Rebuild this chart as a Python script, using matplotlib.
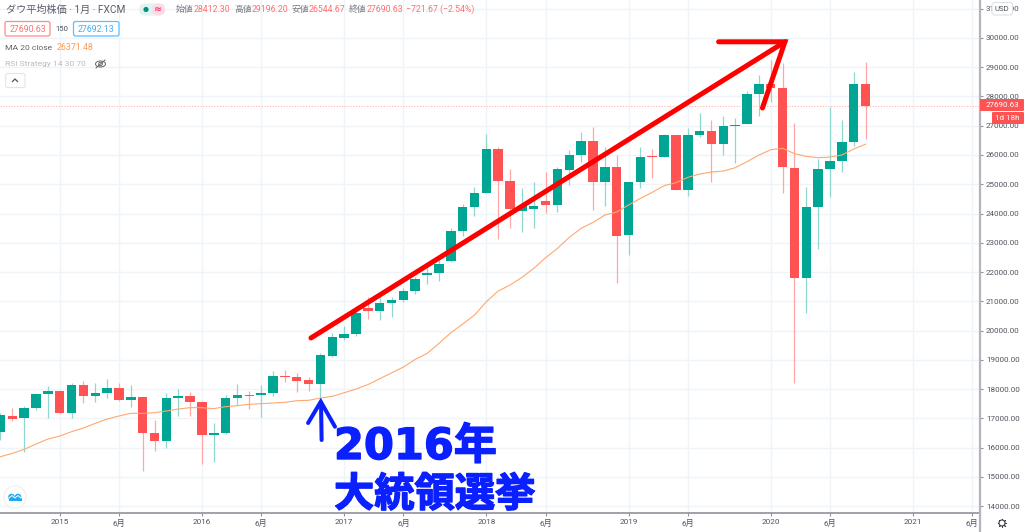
import matplotlib
matplotlib.use('Agg')
import matplotlib.pyplot as plt
import matplotlib.patheffects as pe
from matplotlib.patches import FancyBboxPatch, Circle, Ellipse, Rectangle

JP = ['Noto Sans CJK JP', 'DejaVu Sans']
plt.rcParams['font.family'] = ['Roboto', 'Noto Sans CJK JP', 'DejaVu Sans']

# 月足データ (index 0 = 2015年1月)
months = list(range(-5, 69))
opens = [16540, 17090, 17020, 17360, 17830, 17943, 17190, 18148, 17772, 17852, 18034, 17624, 17715, 16507, 16233, 17681, 17772, 17556, 16427, 16507, 17704, 17806, 17784, 17875, 18456, 18399, 18297, 18171,
         19136, 19752, 19877, 20755, 20664, 20949, 21029, 21359, 21906, 21963, 22385, 23388, 24232, 24711, 26193, 25110, 24100, 24164, 24437, 24300, 25486, 25999, 26489, 25087, 25589, 23263, 25076,
         25954, 25930, 26672, 24802, 26672, 26808, 26364, 26991, 27048, 28074, 28427, 28302, 25544, 21805, 24233, 25510, 25794, 26455, 28412]
closes = [17110, 16985, 17360, 17830, 17943, 17168, 18148, 17772, 17852, 18034, 17624, 17715, 16507, 16233, 17681, 17772, 17556, 16427, 16507, 17704, 17784, 17772, 17875, 18445, 18399, 18285, 18171, 19148,
          19763, 19877, 20584, 20675, 20949, 21040, 21359, 21747, 21975, 22271, 23388, 24232, 24711, 26193, 25110, 24141, 24240, 24255, 24300, 25509, 25999, 26489, 25087, 25589, 23240, 25087, 25942,
          25919, 26672, 24802, 26672, 26808, 26364, 26991, 27036, 28074, 28427, 28302, 25600, 21805, 24233, 25510, 25783, 26455, 28427, 27690]
highs = [17170, 17360, 17420, 17875, 18100, 17965, 18217, 18274, 18194, 18354, 18194, 18148, 17738, 16940, 17852, 17989, 17898, 17578, 16849, 17784, 18171, 17920, 18126, 18627, 18650, 18559, 18399, 19216,
         19923, 20150, 20812, 21154, 21154, 21150, 21440, 21838, 22123, 22408, 23491, 24323, 24916, 26717, 26284, 25509, 24859, 25076, 25418, 25600, 26170, 26786, 26968, 26284, 26000, 25087, 26261,
         26193, 26717, 26694, 26911, 27424, 27196, 27333, 27264, 28199, 28735, 29248, 29134, 27105, 24894, 25851, 27652, 27196, 28826, 29196]
lows = [16256, 16920, 15830, 17280, 17020, 17134, 17020, 17533, 17556, 17681, 17590, 17396, 15184, 15891, 15994, 17077, 17088, 15447, 15492, 16461, 17464, 17328, 17054, 17761, 18251, 17898, 17943, 17738,
        19079, 19672, 19809, 20400, 20356, 20470, 20983, 21245, 21587, 21701, 22351, 23240, 23924, 24711, 23115, 23514, 23366, 23514, 24004, 24050, 24973, 25771, 24118, 24255, 21610, 22579, 24882,
        25224, 25919, 24802, 24608, 26626, 25076, 25999, 25737, 27048, 27333, 27800, 24688, 18191, 20608, 22797, 24575, 25429, 26307, 26544]
ma20 = [15686, 15800, 15937, 16119, 16290, 16393, 16541, 16666, 16826, 16974, 17077, 17168, 17168, 17191, 17248, 17316, 17362, 17362, 17328, 17396, 17430, 17476, 17499, 17521, 17544, 17601, 17613, 17690,
        17750, 17870, 18000, 18150, 18350, 18550, 18750, 19011, 19216, 19558, 19923, 20219, 20527, 20983, 21348, 21553, 21815, 22123, 22488, 22807, 23183, 23491, 23696, 23947, 24050, 24289, 24517,
        24722, 24950, 25053, 25235, 25349, 25418, 25452, 25566, 25771, 25999, 26181, 26227, 26045, 25953, 25908, 25930, 25999, 26204, 26371]

price_ticks = list(range(14000, 32000, 1000))
x_ticks = [0, 5, 12, 17, 24, 29, 36, 41, 48, 53, 60, 65, 72, 77]
x_labels = ['2015', '6月', '2016', '6月', '2017', '6月', '2018', '6月', '2019', '6月', '2020', '6月', '2021', '6月']
last_price = 27690.63

# 書き込みの矢印 (データ座標)
trend_x, trend_y = [21.2, 61.2], [19744, 29870]
trend_head_x, trend_head_y = [55.6, 61.2, 59.3], [29870, 29870, 27607]
blue_x, blue_y = [22.1, 22.05], [16256, 17540]
blue_head_x, blue_head_y = [20.96, 22.03, 23.23], [16838, 17566, 16711]

GREEN, RED = '#00A693', '#FF5252'
GREEN_W, RED_W = '#8FD8CF', '#FFA6A6'
GRID = '#EEF4F8'
TXT = '#50535E'
BLUE = '#0A20FF'

fig = plt.figure(figsize=(10.24, 5.32), dpi=100)
ax = fig.add_axes([0, 1 - 513 / 532, 980 / 1024, 513 / 532])
ax.set_xlim(-5.04, 77.66)
ax.set_ylim(13761, 31299)
ax.set_axisbelow(True)
ax.grid(color=GRID, lw=1.0)

for spine in ['top', 'left']:
    ax.spines[spine].set_visible(False)
ax.spines['bottom'].set_color('#8F929A')
ax.spines['right'].set_color('#B2B5BE')
ax.spines['bottom'].set_linewidth(1.2)
ax.spines['right'].set_linewidth(1.6)
fig.add_artist(plt.Line2D([980, 980], [0, 19], color='#B2B5BE', lw=1.6, transform=None))

ax.yaxis.tick_right()
ax.set_yticks(price_ticks)
ax.set_yticklabels(['%.2f' % p for p in price_ticks])
ax.set_xticks(x_ticks)
ax.set_xticklabels(x_labels)
ax.tick_params(axis='y', labelsize=5.8, labelcolor=TXT, color='#8F929A', length=2.5, pad=1.8)
ax.tick_params(axis='x', labelsize=5.9, labelcolor=TXT, color='#8F929A', length=2.5, pad=1.5)

# ローソク足
for m, o, c, h, l in zip(months, opens, closes, highs, lows):
    up = c >= o
    ax.vlines(m, l, h, color=GREEN_W if up else RED_W, lw=0.9, zorder=2)
    ax.bar(m, abs(c - o), bottom=min(o, c), width=0.8, color=GREEN if up else RED, zorder=3)

ax.plot(months, ma20, color='#FFA870', lw=0.8, zorder=4)
ax.axhline(last_price, color='#FFB3B3', lw=0.8, ls=(0, (1, 1.5)), zorder=1)

# 手書きの矢印
ax.plot(trend_x, trend_y, color='#FF0000', lw=3.6, solid_capstyle='round', zorder=6)
ax.plot(trend_head_x, trend_head_y, color='#FF0000', lw=3.6, solid_capstyle='round', solid_joinstyle='miter', zorder=6)
ax.plot(blue_x, blue_y, color=BLUE, lw=2.9, solid_capstyle='round', zorder=6)
ax.plot(blue_head_x, blue_head_y, color=BLUE, lw=2.9, solid_capstyle='round', solid_joinstyle='miter', zorder=6)


def T(px, py, s, **kw):
    kw.setdefault('va', 'center')
    kw.setdefault('fontsize', 6.35)
    return fig.text(px / 1024, 1 - py / 532, s, **kw)


def box(x0, y0, x1, y1, fc, ec, r=2, lw=0.9, z=8):
    p = FancyBboxPatch((x0, 532 - y1), x1 - x0, y1 - y0, boxstyle='round,pad=0,rounding_size=%g' % r,
                       fc=fc, ec=ec, lw=lw, transform=None, zorder=z)
    fig.add_artist(p)


heavy = [pe.withStroke(linewidth=1.0, foreground=BLUE)]
T(334, 447, '2016年', family=['DejaVu Sans', 'Noto Sans CJK JP'], fontweight='bold', fontsize=31, color=BLUE, zorder=9, path_effects=heavy)
T(334, 495, '大統領選挙', family=JP, fontweight='bold', fontsize=29, color=BLUE, zorder=9, path_effects=heavy)

# 凡例
T(6, 9.5, 'ダウ平均株価 · 1月 · FXCM', fontsize=7.3, color='#5B5F6B')
box(139, 3.5, 165, 15.5, '#E3F3F0', 'none', r=6, lw=0)
box(152, 3.5, 165, 15.5, '#FCDDE6', 'none', r=6, lw=0)
fig.add_artist(Circle((146, 532 - 9.5), 2.6, fc='#00927F', ec='none', transform=None, zorder=9))
T(158.5, 9.5, '≈', ha='center', fontsize=7, color='#F0407A', fontweight='bold', family=['DejaVu Sans'], zorder=9)
for x0, lab, x1, val in [(176, '始値', 194, '28412.30'), (234, '高値', 252, '29196.20'),
                         (291, '安値', 309, '26544.67'), (349, '終値', 367, '27690.63')]:
    T(x0, 9.5, lab, color='#777B87')
    T(x1, 9.5, val, color='#FF7070')
T(406, 9.5, '−721.67 (−2.54%)', color='#FF7070')
box(5, 21.5, 50, 36, 'white', '#FF8A8A')
T(27.5, 29, '27690.63', ha='center', color='#FF7070', zorder=9)
T(62, 29, '150', ha='center', fontsize=5.6, color=TXT)
box(73.5, 21.5, 119, 36, 'white', '#60BFFF')
T(96, 29, '27692.13', ha='center', color='#3FAEF5', zorder=9)
T(5, 48, 'MA 20 close', fontsize=6.1, color='#60636E')
T(57, 48, '26371.48', color='#FF9A55')
T(5, 64, 'RSI Strategy 14 30 70', fontsize=6.1, color='#B9BCC4')

# 目のアイコン
fig.add_artist(Ellipse((100.5, 532 - 64), 10, 6, fc='none', ec='#666', lw=0.7, transform=None, zorder=9))
fig.add_artist(Circle((100.5, 532 - 64), 1.8, fc='none', ec='#666', lw=0.7, transform=None, zorder=9))
fig.add_artist(plt.Line2D([96, 105], [532 - 68, 532 - 60], color='#666', lw=0.7, transform=None, zorder=9))

# 折りたたみボタン
box(5.7, 73.5, 25, 87.5, 'white', '#E3E5EA', r=2, lw=0.8)
fig.add_artist(plt.Line2D([12.5, 15, 17.5], [532 - 81.5, 532 - 79, 532 - 81.5], color='#50535E', lw=0.9, transform=None, zorder=9))

# 右の価格ラベル
box(980, 99, 1024, 111, '#FF5252', 'none', r=1, lw=0)
T(1002, 105, '27690.63', ha='center', fontsize=5.8, color='white', zorder=9)
box(992, 112, 1024, 124, '#FF5252', 'none', r=1, lw=0)
T(1007, 118, '1d 18h', ha='center', fontsize=5.8, color='white', zorder=9)
box(992, 2.5, 1012.5, 15, 'white', '#DDE0E5', r=2.5, lw=0.8)
T(1002, 9, 'USD', ha='center', fontsize=5.6, color=TXT, zorder=9)

# ロゴと設定アイコン
fig.add_artist(Circle((15, 532 - 497), 11, fc='white', ec='#EDEFF2', lw=0.8, transform=None, zorder=9))
fig.add_artist(Rectangle((8.5, 532 - 501), 13, 3.5, fc='#1EA8F0', ec='none', transform=None, zorder=10))
fig.add_artist(Circle((11.5, 532 - 497), 3.3, fc='#1EA8F0', ec='none', transform=None, zorder=10))
fig.add_artist(Circle((18, 532 - 497), 3.3, fc='#1EA8F0', ec='none', transform=None, zorder=10))
fig.add_artist(plt.Line2D([9, 12, 15, 18, 21], [532 - 498, 532 - 495.5, 532 - 498, 532 - 495.5, 532 - 498], color='white', lw=0.7, transform=None, zorder=11))
fig.add_artist(plt.Line2D([1002], [532 - 523], marker=(8, 2, 0), ms=6.5, mew=0.7, color='#3A3D46', transform=None, zorder=9))
fig.add_artist(Circle((1002, 532 - 523), 3.0, fc='white', ec='#3A3D46', lw=0.8, transform=None, zorder=10))

fig.savefig('out.png', dpi=100)
